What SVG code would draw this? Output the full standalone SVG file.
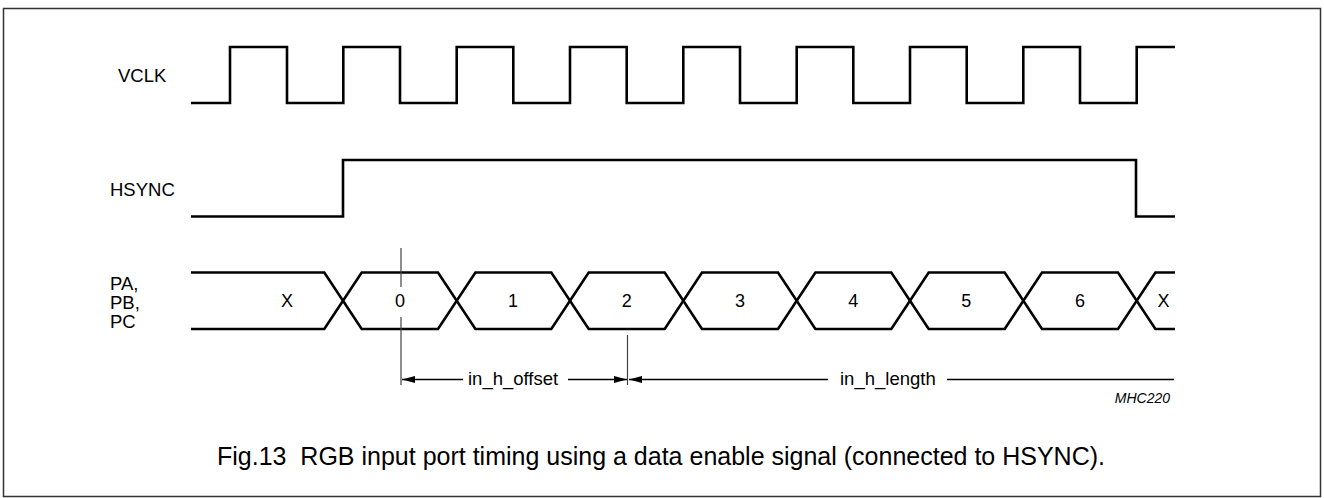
<svg xmlns="http://www.w3.org/2000/svg" width="1324" height="498" viewBox="0 0 1324 498">
<defs>
<style>
.sig{fill:none;stroke:#000;stroke-width:2.6;stroke-linejoin:miter;stroke-linecap:butt}
.mark{fill:none;stroke:#444;stroke-width:1.2}
.dim{fill:none;stroke:#000;stroke-width:1.3}
.lbl{font-family:"Liberation Sans",Arial,sans-serif;font-size:18.5px;fill:#000}
.val{font-family:"Liberation Sans",Arial,sans-serif;font-size:18px;fill:#000;text-anchor:middle}
.cap{font-family:"Liberation Sans",Arial,sans-serif;font-size:25px;fill:#000}
.code{font-family:"Liberation Sans",Arial,sans-serif;font-size:14px;font-style:italic;fill:#000;text-anchor:end}
</style>
<marker id="ah" viewBox="0 0 13 7" refX="13" refY="3.5" markerWidth="13" markerHeight="7" markerUnits="userSpaceOnUse" orient="auto-start-reverse">
<path d="M0,0 L13,3.5 L0,7 Z" fill="#000"/>
</marker>
</defs>
<rect x="0" y="0" width="1324" height="498" fill="#fff"/>
<rect x="3.5" y="8.5" width="1317" height="488" fill="none" stroke="#333" stroke-width="1.5"/>

<g id="vclk">
<text class="lbl" x="118" y="82">VCLK</text>
<path class="sig" d="M191,103 H230 V47 H287 V103 H343.3 V47 H400 V103 H456.7 V47 H513.3 V103 H570 V47 H626.7 V103 H683.3 V47 H740 V103 H796.7 V47 H853.3 V103 H910 V47 H966.7 V103 H1023.3 V47 H1080 V103 H1136.7 V47 H1175"/>
</g>

<g id="hsync">
<text class="lbl" x="110" y="196">HSYNC</text>
<path class="sig" d="M191,216.5 H343 V160 H1136 V216.5 H1175"/>
</g>

<g id="bus">
<text class="lbl" x="110" y="290">PA,</text>
<text class="lbl" x="110" y="309">PB,</text>
<text class="lbl" x="110" y="328">PC</text>
<path class="sig" d="M191,272.5 H324.3 L361.7,329 H438 L475.4,272.5 H551.3 L588.7,329 H664.7 L702,272.5 H778 L815.4,329 H891.3 L928.7,272.5 H1004.7 L1042,329 H1118 L1155.4,272.5 H1175"/>
<path class="sig" d="M191,329 H324.3 L361.7,272.5 H438 L475.4,329 H551.3 L588.7,272.5 H664.7 L702,329 H778 L815.4,272.5 H891.3 L928.7,329 H1004.7 L1042,272.5 H1118 L1155.4,329 H1175"/>
<text class="val" x="287" y="307">X</text>
<text class="val" x="400" y="307">0</text>
<text class="val" x="513" y="307">1</text>
<text class="val" x="626.7" y="307">2</text>
<text class="val" x="740" y="307">3</text>
<text class="val" x="853.3" y="307">4</text>
<text class="val" x="966.3" y="307">5</text>
<text class="val" x="1080" y="307">6</text>
<text class="val" x="1163.5" y="307">X</text>
</g>

<g id="connectors">
<path class="mark" d="M401,248 V287 M401,317 V385"/>
<path class="mark" d="M627.5,335 V385"/>
<line class="dim" x1="463" y1="379.5" x2="402" y2="379.5" marker-end="url(#ah)"/>
<line class="dim" x1="568" y1="379.5" x2="627" y2="379.5" marker-end="url(#ah)"/>
<line class="dim" x1="828" y1="379.5" x2="629" y2="379.5" marker-end="url(#ah)"/>
<line class="dim" x1="947" y1="379.5" x2="1174" y2="379.5"/>
</g>

<g id="labels">
<text class="lbl" x="468" y="385">in_h_offset</text>
<text class="lbl" x="840" y="385">in_h_length</text>
<text class="code" x="1170" y="403">MHC220</text>
<text class="cap" x="217" y="465" xml:space="preserve">Fig.13  RGB input port timing using a data enable signal (connected to HSYNC).</text>
</g>
</svg>
